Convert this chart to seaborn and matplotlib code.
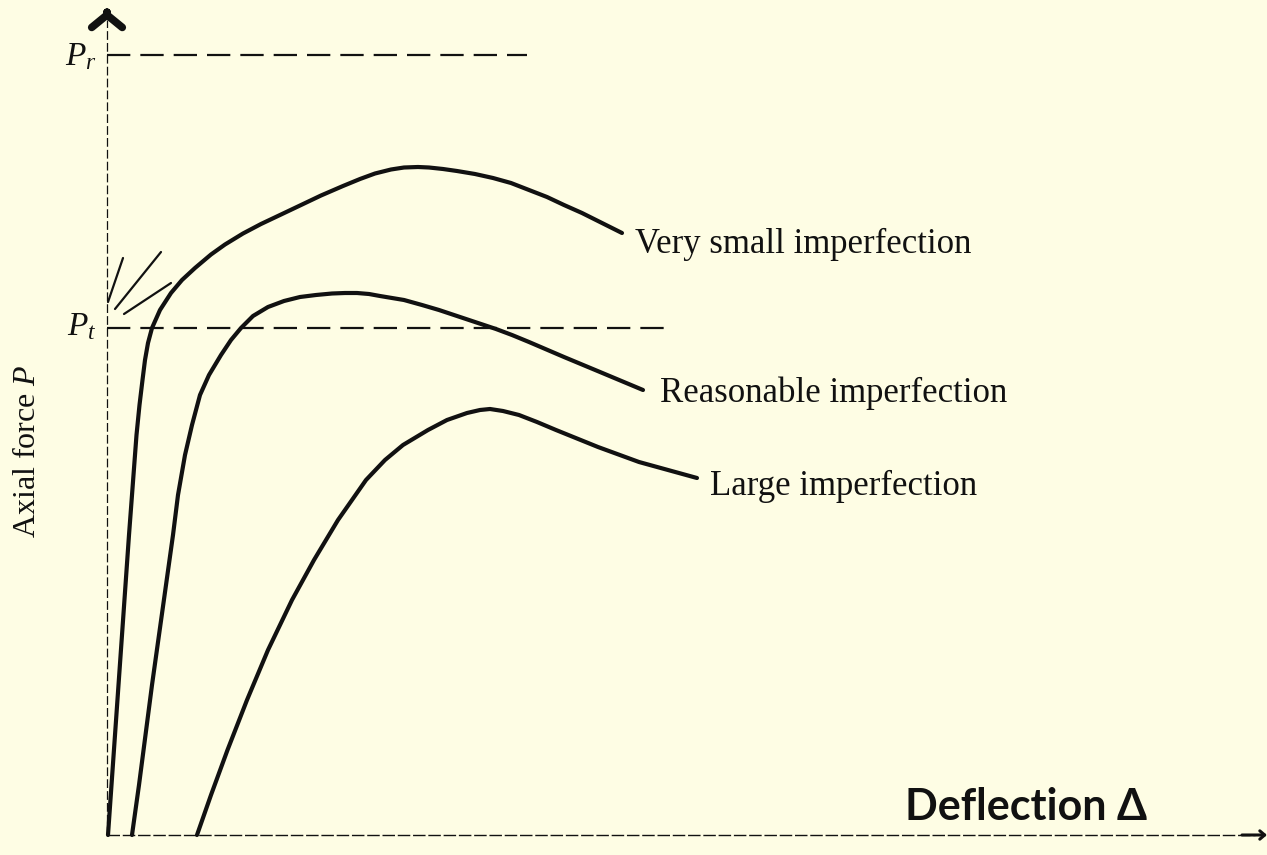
import matplotlib
matplotlib.use("Agg")
import matplotlib.pyplot as plt
import seaborn as sns
import pandas as pd

# Load-deflection paths of a strut (deflection, axial force), arbitrary units
very_small_defl = [0.1, 0.8, 1.5, 2.2, 2.65, 2.95, 3.25, 3.55, 3.8, 4.1, 4.5, 5.3, 6.4,
                   7.5, 8.8, 10.4, 11.8, 13.6, 15.4, 17.3, 19.3, 21.4, 23.6, 25.3, 26.8,
                   28.4, 29.7, 31.1, 32.2, 33.6, 35.0, 36.8, 38.6, 40.4, 42.2, 44.0,
                   45.7, 47.5, 49.3, 51.5]
very_small_force = [0.0, 10.0, 20.0, 30.0, 36.0, 40.0, 43.0, 45.5, 47.5, 49.2, 50.7,
                    52.5, 54.2, 55.5, 56.7, 58.05, 59.05, 60.15, 61.1, 62.0, 62.95,
                    63.95, 64.9, 65.6, 66.15, 66.55, 66.75, 66.8, 66.75, 66.6, 66.4,
                    66.1, 65.7, 65.2, 64.5, 63.8, 63.0, 62.2, 61.3, 60.2]

reasonable_defl = [2.5, 3.2, 3.85, 4.5, 5.2, 5.9, 6.6, 7.1, 7.8, 8.5, 9.3, 10.2, 11.4,
                   12.4, 13.4, 14.6, 16.1, 17.7, 19.3, 20.9, 22.5, 23.8, 25.0, 26.2,
                   27.3, 29.7, 31.5, 33.2, 35.0, 36.8, 38.9, 40.5, 42.2, 45.7, 49.3,
                   53.6]
reasonable_force = [0.0, 5.0, 10.0, 15.0, 20.0, 25.0, 30.0, 34.0, 38.0, 41.0, 44.0,
                    46.0, 48.0, 49.5, 50.7, 51.9, 52.8, 53.4, 53.8, 54.0, 54.15, 54.2,
                    54.2, 54.1, 53.9, 53.5, 53.0, 52.5, 51.9, 51.3, 50.6, 50.0, 49.3,
                    47.8, 46.3, 44.5]

large_defl = [9.0, 10.4, 12.05, 14.0, 16.1, 18.5, 20.7, 23.1, 25.9, 27.8, 29.6, 32.1,
              34.0, 36.0, 37.3, 38.3, 39.6, 41.2, 43.0, 44.9, 49.1, 53.2, 59.0]
large_force = [0.0, 4.0, 8.5, 13.5, 18.5, 23.5, 27.5, 31.5, 35.5, 37.5, 39.0, 40.5,
               41.5, 42.2, 42.5, 42.6, 42.4, 42.0, 41.3, 40.5, 38.8, 37.3, 35.7]

curve_names = ["Very small imperfection", "Reasonable imperfection", "Large imperfection"]
label_pos = [(52.8, 58.2), (55.3, 43.3), (60.3, 34.0)]

# Reference load levels
p_r_level, p_r_extent = 78.0, 42.0
p_t_level, p_t_extent = 50.7, 55.8

frames = []
for name, dx, fy in zip(curve_names,
                        [very_small_defl, reasonable_defl, large_defl],
                        [very_small_force, reasonable_force, large_force]):
    frames.append(pd.DataFrame({"deflection": dx, "force": fy, "case": name}))
df = pd.concat(frames, ignore_index=True)

sns.set_style("white")
plt.rcParams["font.family"] = ["Liberation Serif", "DejaVu Serif"]
plt.rcParams["mathtext.fontset"] = "custom"
plt.rcParams["mathtext.it"] = "Liberation Serif:italic"
plt.rcParams["mathtext.rm"] = "Liberation Serif"

bg = "#FEFDE4"
ink = "#111111"

fig = plt.figure(figsize=(12.67, 8.55), dpi=100, facecolor=bg)
ax = fig.add_axes([0, 0, 1, 1])
ax.set_facecolor(bg)
ax.set_xlim(-10.7, 116.0)
ax.set_ylim(-2.0, 83.5)
ax.axis("off")

sns.lineplot(data=df, x="deflection", y="force", units="case", estimator=None,
             sort=False, color=ink, linewidth=3.0, ax=ax, legend=False)
for line in ax.lines:
    line.set_solid_joinstyle("round")
    line.set_solid_capstyle("round")

# Axes drawn as faint broken lines with arrowheads
ax.plot([0, 0], [0, 81.5], color=ink, lw=0.9, dashes=(7, 2.5), zorder=1)
ax.plot([0, 114.8], [0, 0], color=ink, lw=1.0, dashes=(9, 2), zorder=1)
ax.annotate("", xy=(0, 82.5), xytext=(0, 82.2),
            arrowprops=dict(arrowstyle="->,head_length=0.9,head_width=1.1",
                            lw=5.5, color=ink, shrinkA=0, shrinkB=0))
ax.annotate("", xy=(116.0, 0), xytext=(113.5, 0),
            arrowprops=dict(arrowstyle="->,head_length=0.35,head_width=0.3",
                            lw=2.2, color=ink, shrinkA=0, shrinkB=0))

# Reference load levels
ax.plot([0, p_r_extent], [p_r_level, p_r_level], color=ink, lw=1.6, dashes=(10.5, 4.5))
ax.plot([0, p_t_extent], [p_t_level, p_t_level], color=ink, lw=1.6, dashes=(10.5, 4.5))
ax.text(-1.0, 77.0, r"$P_r$", ha="right", va="baseline", fontsize=24, color=ink)
ax.text(-1.0, 50.0, r"$P_t$", ha="right", va="baseline", fontsize=24, color=ink)

# Short strokes marking the tangent load
for (x0, y0), (x1, y1) in [((0.1, 53.3), (1.6, 57.7)),
                           ((0.8, 52.6), (5.4, 58.3)),
                           ((1.7, 52.1), (6.4, 55.2))]:
    ax.plot([x0, x1], [y0, y1], color=ink, lw=1.6, solid_capstyle="round")

for name, (lx, ly) in zip(curve_names, label_pos):
    ax.text(lx, ly, name, ha="left", va="baseline", fontsize=25, color=ink)

ax.text(-7.9, 38.4, "Axial force $P$", rotation=90, ha="center", va="center",
        fontsize=23, color=ink)
ax.text(79.8, 1.5, "Deflection Δ", ha="left", va="baseline", fontsize=31,
        fontweight="bold", family=["Lato", "DejaVu Sans"], color=ink)

fig.savefig("out.png", dpi=100, facecolor=bg)
